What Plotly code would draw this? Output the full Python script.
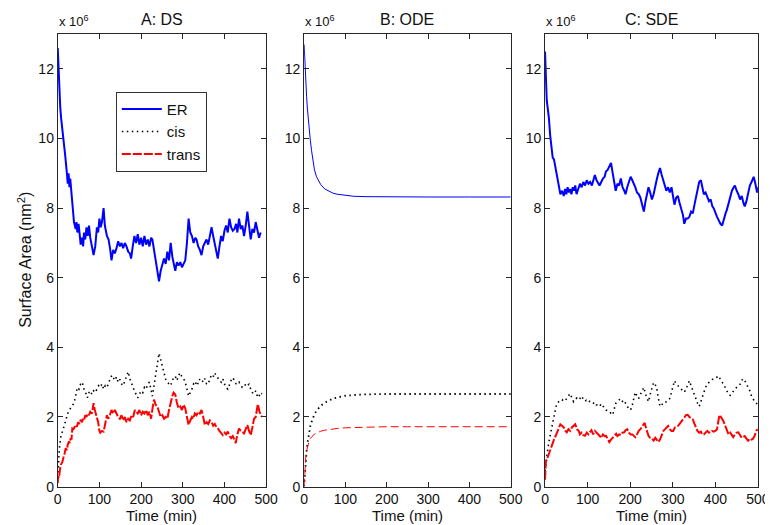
import plotly.graph_objects as go

# ---------------- data (values in units of 10^6 nm^2) ----------------
t_ds_er = [0,2,4,6,8,11,15,18,22,24,26,28,30,33,35,39,43,45,47,50,53,55,58,61,63,66,69,72,75,78,82,86,90,94,97,100,103,106,110,113,118,122,126,129,133,137,141,145,149,153,157,161,165,169,173,176,180,184,188,192,196,200,204,208,212,216,220,224,227,231,235,239,243,247,251,255,259,263,267,271,275,279,282,286,290,294,298,302,306,310,314,318,322,326,330,333,337,341,345,349,353,357,361,365,369,373,376,380,384,388,392,396,400,404,408,412,416,420,424,428,431,435,439,443,447,451,455,459,463,467,471,475,479,483,487]
v_ds_er = [12.6,11.8,11.2,10.9,10.6,10.3,9.8,9.5,9.0,8.7,9.0,8.6,8.85,8.4,8.1,7.6,7.4,7.6,7.3,7.55,7.2,6.95,7.15,6.9,7.3,7.1,7.45,7.2,7.5,7.15,6.9,6.65,6.9,7.45,7.3,7.7,7.45,7.6,8.0,7.5,7.2,7.1,6.8,6.5,6.8,6.7,6.85,7.05,6.9,7.0,6.85,7.0,6.9,6.75,6.7,6.55,6.9,7.2,7.0,7.25,6.95,7.15,6.9,7.2,6.95,7.1,6.9,7.15,7.1,6.8,6.5,6.2,5.9,6.2,6.35,6.55,6.4,6.75,6.5,7.0,6.6,6.4,6.2,6.45,6.35,6.45,6.3,6.4,6.5,7.0,7.7,7.3,7.2,7.0,7.15,7.1,6.9,6.8,6.65,6.9,7.0,7.1,6.95,7.25,7.45,7.2,7.0,6.8,6.55,6.9,7.2,7.05,7.35,7.5,7.3,7.7,7.45,7.35,7.4,7.55,7.3,7.7,7.4,7.5,7.2,7.5,7.9,7.5,7.1,7.4,7.3,7.6,7.4,7.15,7.3]

t_ds_cis = [0,2,4,6,8,12,16,20,24,28,31,35,39,43,47,51,55,59,63,67,71,75,78,82,86,90,94,98,102,106,110,114,118,122,126,130,133,137,141,145,149,153,157,161,165,169,173,177,180,184,188,192,196,200,204,208,212,216,220,224,227,231,235,239,243,247,251,255,259,263,267,271,275,279,282,286,290,294,298,302,306,310,314,318,322,326,330,333,337,341,345,349,353,357,361,365,369,373,376,380,384,388,392,396,400,404,408,412,416,420,424,428,431,435,439,443,447,451,455,459,463,467,471,475,479,482,486,490]
v_ds_cis = [0.26,0.8,1.1,1.3,1.48,1.6,1.77,1.95,2.1,2.2,2.25,2.3,2.4,2.6,2.85,2.8,2.95,3.0,2.8,2.7,2.55,2.7,2.75,2.65,2.75,2.7,2.8,2.9,2.85,2.95,2.8,2.9,2.85,3.0,3.1,3.2,3.15,3.05,3.15,3.0,3.08,2.95,2.9,3.05,3.2,3.3,3.1,2.95,2.9,2.75,2.65,2.55,2.65,2.75,2.7,2.85,2.8,2.95,3.0,2.8,2.6,2.9,3.17,3.5,3.83,3.65,3.45,3.25,3.08,3.0,2.95,2.9,3.05,3.15,3.17,3.05,3.2,3.27,3.15,3.1,3.0,2.8,2.6,2.7,2.8,2.95,2.9,3.03,2.95,3.1,3.08,3.0,3.1,2.95,2.94,3.1,3.2,3.15,3.27,3.2,3.1,3.05,3.0,3.1,2.95,2.85,2.8,2.95,3.05,3.13,3.05,2.95,2.94,3.0,2.9,2.85,2.85,2.95,2.9,2.94,2.8,2.7,2.66,2.75,2.6,2.56,2.7,2.66]

t_ds_trans = [0,1,3,4,6,8,11,14,16,19,22,24,27,29,31,33,35,38,41,43,46,49,52,55,58,61,63,66,69,72,75,78,82,86,89,92,94,97,100,102,106,110,113,116,118,121,125,129,133,137,141,145,149,153,157,161,165,169,173,177,181,185,188,192,196,200,204,208,212,216,220,224,228,231,235,239,243,247,251,255,259,263,267,271,275,278,282,286,290,294,298,302,306,310,314,318,322,325,329,333,337,341,345,349,353,357,361,365,369,373,377,381,384,388,392,396,400,404,408,412,416,420,424,427,431,435,439,443,447,451,455,459,463,467,471,475,480,484,488,490]
v_ds_trans = [0.1,0.3,0.25,0.45,0.55,0.64,0.7,0.85,0.92,1.1,1.05,1.2,1.3,1.25,1.39,1.35,1.67,1.65,1.75,1.77,1.72,1.85,1.8,1.92,1.85,1.95,1.9,2.05,2.0,2.1,2.05,2.15,2.1,2.4,2.2,2.05,1.95,1.85,1.6,1.55,1.6,1.58,1.75,1.9,2.05,1.95,2.05,2.2,2.1,2.2,2.1,2.0,1.95,2.05,1.9,2.0,1.85,1.95,1.9,2.05,2.0,2.2,2.15,2.1,2.2,2.05,2.15,2.1,2.2,2.05,2.15,1.95,2.3,2.5,2.35,2.3,2.15,2.0,2.05,1.95,2.0,1.95,2.2,2.45,2.6,2.7,2.65,2.4,2.25,2.3,2.2,2.35,2.25,2.0,1.77,1.9,2.0,1.95,2.1,2.05,2.15,2.1,2.2,2.0,1.77,1.85,1.8,1.9,1.86,1.75,1.8,1.7,1.67,1.6,1.55,1.48,1.55,1.5,1.58,1.45,1.39,1.45,1.35,1.25,1.5,1.67,1.6,1.55,1.53,1.65,1.77,1.6,1.48,1.7,1.95,2.0,2.37,2.15,2.05,2.0]

t_ode = [0,2,4,6,8,10,12,15,18,20,25,30,35,40,50,60,70,80,100,120,150,200,250,300,400,500]
v_ode_er = [12.7,12.1,11.6,11.2,10.85,10.55,10.3,9.95,9.65,9.45,9.1,8.9,8.78,8.68,8.55,8.48,8.43,8.4,8.36,8.34,8.33,8.32,8.32,8.32,8.32,8.32]
v_ode_cis = [0.0,0.45,0.75,1.02,1.25,1.42,1.56,1.74,1.86,1.93,2.08,2.18,2.26,2.32,2.41,2.48,2.53,2.56,2.61,2.63,2.65,2.66,2.66,2.66,2.66,2.66]
v_ode_trans = [0.0,0.55,0.85,1.02,1.15,1.24,1.31,1.38,1.43,1.46,1.51,1.54,1.57,1.59,1.62,1.64,1.66,1.67,1.69,1.70,1.71,1.72,1.72,1.72,1.72,1.72]

t_sde_er = [0,2,4,6,9,12,15,18,21,24,27,30,33,36,40,44,47,50,53,56,59,62,65,68,71,74,78,82,86,90,94,98,102,106,110,113,117,121,124,128,132,136,140,143,147,151,155,159,163,166,170,174,178,182,186,189,193,197,201,205,209,212,216,220,224,228,232,236,240,243,247,251,255,258,262,266,270,274,278,282,285,289,293,297,300,304,308,312,316,320,324,327,331,335,339,343,347,351,355,358,362,366,370,373,377,381,385,389,393,396,400,404,408,412,416,420,424,427,431,435,439,443,446,450,454,458,462,466,469,473,477,481,485,490,494,498,500]
v_sde_er = [12.5,11.6,11.1,10.9,10.6,10.1,9.8,9.45,9.4,9.2,8.95,8.7,8.5,8.4,8.5,8.35,8.55,8.4,8.6,8.45,8.55,8.4,8.6,8.5,8.65,8.4,8.55,8.7,8.6,8.75,8.65,8.8,8.7,8.75,8.65,8.8,8.95,8.8,8.75,8.65,8.75,8.85,8.9,9.05,9.1,9.2,9.3,9.0,8.75,8.5,8.7,8.65,8.85,8.6,8.5,8.4,8.6,8.75,8.9,8.8,8.7,8.6,8.45,8.4,8.3,8.1,7.9,8.2,8.45,8.6,8.45,8.25,8.4,8.6,8.8,9.0,9.15,8.95,8.8,8.6,8.5,8.6,8.45,8.6,8.35,8.1,8.3,8.35,8.15,8.0,7.8,7.55,7.7,7.7,7.75,7.9,7.85,8.1,8.35,8.6,8.75,8.8,8.55,8.4,8.45,8.3,8.2,8.25,8.05,8.0,7.85,7.75,7.65,7.55,7.5,7.7,7.85,7.95,8.15,8.3,8.5,8.6,8.65,8.5,8.4,8.25,8.35,8.15,8.05,8.2,8.45,8.65,8.75,8.9,8.7,8.45,8.6]

t_sde_cis = [0,2,5,9,13,17,21,25,28,32,36,40,44,48,52,56,59,63,67,71,75,79,82,86,90,94,97,101,105,109,113,117,120,124,128,132,136,140,143,147,151,155,159,163,166,170,174,178,182,186,189,193,197,201,205,208,212,216,220,224,228,232,236,240,243,247,251,255,258,262,266,270,274,278,281,285,289,293,297,301,304,308,312,316,320,324,327,331,335,339,343,347,350,354,358,362,366,369,373,377,381,385,389,393,396,400,404,408,411,415,419,423,427,431,435,439,442,446,450,454,458,462,465,469,473,477,481,485,488,492,496,500]
v_sde_cis = [0.45,0.72,0.95,1.28,1.55,1.8,2.02,2.25,2.39,2.45,2.48,2.5,2.45,2.48,2.55,2.62,2.67,2.55,2.44,2.5,2.55,2.5,2.53,2.6,2.5,2.45,2.48,2.42,2.45,2.4,2.39,2.42,2.35,2.34,2.3,2.38,2.3,2.25,2.2,2.18,2.16,2.1,2.06,2.25,2.39,2.45,2.5,2.53,2.45,2.48,2.4,2.3,2.25,2.2,2.35,2.55,2.71,2.6,2.53,2.65,2.75,2.85,2.65,2.5,2.44,2.65,2.85,2.99,2.95,2.85,2.55,2.3,2.35,2.4,2.39,2.45,2.5,2.53,2.7,2.85,3.04,2.95,2.9,2.85,2.8,2.75,2.71,2.8,2.95,3.04,2.9,2.75,2.67,2.5,2.4,2.3,2.45,2.6,2.76,2.85,2.95,2.99,3.05,3.08,3.08,3.12,3.15,3.18,3.1,3.0,2.94,2.85,2.75,2.65,2.62,2.7,2.75,2.8,2.85,2.9,2.94,3.05,3.1,3.05,2.95,2.85,2.75,2.6,2.53,2.45,2.4,2.34]

t_sde_trans = [0,1,2,5,9,13,17,21,25,29,33,36,40,44,48,51,55,59,63,67,71,75,79,82,86,90,94,98,102,105,109,113,117,121,124,128,132,136,140,143,147,151,155,159,163,167,170,174,178,182,186,189,193,197,201,205,209,212,216,220,224,228,231,234,238,243,247,251,255,259,262,266,270,274,278,282,285,289,293,297,301,305,308,312,316,320,324,328,331,335,339,343,347,351,354,358,362,366,369,373,377,381,385,389,392,396,400,404,408,410,413,416,419,423,427,431,435,439,442,446,450,454,458,462,465,469,473,477,481,485,488,492,496,500]
v_sde_trans = [0.2,0.55,0.72,0.8,0.95,1.09,1.2,1.35,1.46,1.6,1.7,1.79,1.75,1.7,1.6,1.56,1.65,1.6,1.7,1.75,1.79,1.65,1.6,1.5,1.55,1.48,1.46,1.55,1.5,1.56,1.62,1.5,1.6,1.55,1.52,1.46,1.4,1.5,1.45,1.46,1.38,1.28,1.35,1.42,1.46,1.52,1.45,1.5,1.48,1.55,1.56,1.62,1.65,1.55,1.5,1.5,1.45,1.42,1.5,1.6,1.65,1.72,1.8,1.83,1.65,1.46,1.4,1.38,1.32,1.4,1.35,1.28,1.35,1.5,1.6,1.65,1.7,1.74,1.65,1.6,1.6,1.7,1.72,1.74,1.8,1.88,1.93,2.0,2.05,2.06,2.0,1.95,1.93,1.8,1.7,1.6,1.55,1.58,1.5,1.5,1.55,1.6,1.55,1.56,1.6,1.58,1.6,1.65,1.95,2.06,2.0,1.95,1.88,1.75,1.6,1.5,1.55,1.45,1.42,1.5,1.55,1.56,1.48,1.4,1.42,1.45,1.38,1.32,1.38,1.35,1.37,1.45,1.6,1.65]

panel_titles = ["A: DS", "B: ODE", "C: SDE"]
series_names = ["ER", "cis", "trans"]
x_ticks = [0, 100, 200, 300, 400, 500]
y_ticks = [0, 2, 4, 6, 8, 10, 12]

# ---------------- styles ----------------
W, H = 773, 525
FONT = "Liberation Sans, Arial, Helvetica, sans-serif"
BLUE, BLACK, RED = "#0000ff", "#000000", "#ff0000"
AXC = "#262626"
xdom_px = [(46.7, 259.5), (298.3, 509.3), (544.3, 761.7)]
ytop_px, ybot_px = 26.5, 486.0

fig = go.Figure()

panels = [
    (t_ds_er, v_ds_er, t_ds_cis, v_ds_cis, t_ds_trans, v_ds_trans, 2.0),
    (t_ode, v_ode_er, t_ode, v_ode_cis, t_ode, v_ode_trans, 1.0),
    (t_sde_er, v_sde_er, t_sde_cis, v_sde_cis, t_sde_trans, v_sde_trans, 2.0),
]

for i, (te, ve, tc, vc, tt, vt, lw) in enumerate(panels):
    ax = "" if i == 0 else str(i + 1)
    show = i == 0
    fig.add_trace(go.Scatter(x=te, y=ve, mode="lines", name=series_names[0],
                             line=dict(color=BLUE, width=lw), showlegend=show,
                             xaxis="x" + ax, yaxis="y" + ax))
    fig.add_trace(go.Scatter(x=tc, y=vc, mode="lines", name=series_names[1],
                             line=dict(color=BLACK, width=1.6 if i != 1 else 1.8, dash="1.5px,3.5px"),
                             showlegend=show, xaxis="x" + ax, yaxis="y" + ax))
    fig.add_trace(go.Scatter(x=tt, y=vt, mode="lines", name=series_names[2],
                             line=dict(color=RED, width=lw if i != 1 else 1.0, dash="8px,4px" if i == 1 else "9px,2px"),
                             showlegend=show, xaxis="x" + ax, yaxis="y" + ax))

layout = dict(
    width=W, height=H, margin=dict(l=0, r=0, t=0, b=0),
    paper_bgcolor="white", plot_bgcolor="white",
    font=dict(family=FONT, size=14, color="#111"),
    legend=dict(x=106 / W, y=1 - 85 / H, xanchor="left", yanchor="top",
                bgcolor="white", bordercolor="#333", borderwidth=1,
                font=dict(size=15, family=FONT), itemwidth=40, tracegroupgap=0),
    annotations=[],
)

for i in range(3):
    ax = "" if i == 0 else str(i + 1)
    x0, x1 = xdom_px[i]
    layout["xaxis" + ax] = dict(
        domain=[x0 / W, x1 / W], range=[0, 500], anchor="y" + ax,
        tickvals=x_ticks, ticks="inside", ticklen=5, tickcolor=AXC,
        showline=True, linecolor=AXC, linewidth=1, mirror="ticks",
        showgrid=False, zeroline=False, tickfont=dict(size=14, family=FONT),
    )
    layout["yaxis" + ax] = dict(
        domain=[1 - ybot_px / H, 1 - ytop_px / H], range=[0, 13], anchor="x" + ax,
        tickvals=y_ticks, ticks="inside", ticklen=5, tickcolor=AXC,
        showline=True, linecolor=AXC, linewidth=1, mirror="ticks",
        showgrid=False, zeroline=False, tickfont=dict(size=14, family=FONT),
    )
    cx = (x0 + x1) / 2
    layout["annotations"] += [
        dict(text=panel_titles[i], x=cx / W, y=1 - 1 / H, xref="paper", yref="paper",
             showarrow=False, xanchor="center", yanchor="top", font=dict(size=16, family=FONT)),
        dict(text="x 10<sup>6</sup>", x=(x0 - 1) / W, y=1 - 3 / H, xref="paper", yref="paper",
             showarrow=False, xanchor="left", yanchor="top", font=dict(size=13, family=FONT)),
        dict(text="Time (min)", x=cx / W, y=1 - 525 / H, xref="paper", yref="paper",
             showarrow=False, xanchor="center", yanchor="bottom", borderpad=0,
             font=dict(size=15, family=FONT)),
    ]

layout["annotations"].append(
    dict(text="Surface Area (nm<sup>2</sup>)", x=13 / W, y=1 - 256 / H, xref="paper", yref="paper",
         showarrow=False, textangle=-90, xanchor="center", yanchor="middle",
         font=dict(size=16, family=FONT)))

fig.update_layout(**layout)
fig.write_html("out.html")
